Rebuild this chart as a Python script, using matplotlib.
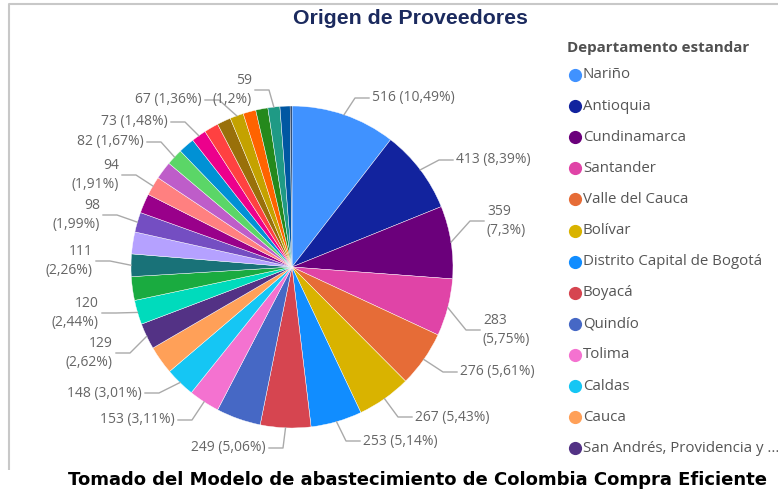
import numpy as np
import matplotlib
matplotlib.use("Agg")
import matplotlib.pyplot as plt

# ==========================================
# DATA
# ==========================================
departamentos = [
    "Nariño", "Antioquia", "Cundinamarca", "Santander", "Valle del Cauca",
    "Bolívar", "Distrito Capital de Bogotá", "Boyacá", "Quindío", "Tolima",
    "Caldas", "Cauca", "San Andrés, Providencia y Santa Catalina",
    "Risaralda", "Meta", "Huila", "Atlántico", "Magdalena", "Cesar",
    "Córdoba", "Sucre", "Norte de Santander", "Casanare", "Caquetá",
    "Putumayo", "La Guajira", "Chocó", "Arauca", "Amazonas", "Guaviare",
    "Vichada", "Guainía",
]
proveedores = [
    516, 413, 359, 283, 276, 267, 253, 249, 220, 153, 148, 140, 129,
    120, 117, 111, 108, 98, 96, 94, 88, 82, 80, 73, 71, 68, 67, 63, 60,
    59, 50, 9,
]
legend_labels = departamentos[:12] + ["San Andrés, Providencia y ..."]

colores = [
    "#4092FF", "#12239E", "#6B007B", "#E044A7", "#E66C37", "#D9B300",
    "#118DFF", "#D64550", "#4668C5", "#F472D0", "#15C6F4", "#FFA058",
    "#533285", "#00DBBC", "#1AAB40", "#197278", "#B5A1FF", "#744EC2",
    "#99008A", "#FF8080", "#BE5DC9", "#5BD667", "#0091D5", "#EC008C",
    "#FF4141", "#99700A", "#C4A200", "#FF6300", "#25891C", "#1F9A85",
    "#0057A2", "#002050",
]

# data-label layout: slice index -> (text anchor x, centre y) in pixels from top-left
label_pos = {
    0: (372, 98), 1: (456, 160), 2: (487, 221), 3: (483, 330),
    4: (460, 372), 5: (415, 417), 6: (363, 441), 7: (266, 448),
    9: (175, 420), 10: (142, 393), 12: (113, 353), 13: (99, 313),
    15: (93, 261), 17: (100, 215), 19: (119, 175), 21: (144, 142),
    23: (168, 122), 26: (202, 100), 29: (252, 90),
}
two_line = {2, 3, 12, 13, 15, 17, 19, 29}

W, H = 778, 492
total = sum(proveedores)


def pct(v):
    s = f"{100 * v / total:.2f}".rstrip("0").rstrip(".")
    return s.replace(".", ",") + "%"


fig = plt.figure(figsize=(W / 100, H / 100), dpi=100)
ax = fig.add_axes([0, 0, 1, 1])

# frame of the visual
ax.plot([9, 9, W], [H - 470, H - 4, H - 4], color="#c8c8c8", lw=1.5,
        solid_capstyle="butt")

# ==========================================
# PIE
# ==========================================
cx, cy, R = 292, H - 267, 161
wedges, _ = ax.pie(proveedores, colors=colores, startangle=90,
                   counterclock=False, center=(cx, cy), radius=R,
                   wedgeprops=dict(linewidth=0.3, edgecolor="white"))
ax.set_aspect("equal")
ax.set_xlim(0, W)
ax.set_ylim(0, H)
ax.axis("off")

label_font = dict(family="Open Sans", fontsize=10, color="#666666")
for i, (tx, ty) in label_pos.items():
    w = wedges[i]
    ang = np.deg2rad((w.theta1 + w.theta2) / 2)
    x0, y0 = cx + R * np.cos(ang), cy + R * np.sin(ang)
    side = 1 if tx > cx else -1
    y1 = H - ty
    x2 = tx - side * 3
    x1 = x2 - side * 14
    ax.plot([x0, x1, x2], [y0, y1, y1], color="#aaaaaa", lw=1)
    v = proveedores[i]
    sep = "\n" if i in two_line else " "
    ax.text(tx, y1, f"{v}{sep}({pct(v)})", ha="left" if side > 0 else "right",
            va="center", linespacing=1.45, **label_font)

# ==========================================
# TITLES & LEGEND
# ==========================================
ax.text(410, H - 18, "Origen de Proveedores", ha="center", va="center",
        family="Liberation Sans", fontweight="bold", fontsize=15.3,
        color="#1B2A5E")

ax.text(567, H - 48, "Departamento estandar", ha="left", va="center",
        family="Open Sans", fontweight="bold", fontsize=10.9, color="#505050")
for k, nombre in enumerate(legend_labels):
    yy = H - (75 + 31.1 * k)
    ax.plot(575, yy, "o", ms=9.5, color=colores[k], mec="none")
    ax.text(583, yy, nombre, ha="left", va="center", family="Open Sans",
            fontsize=10.8, color="#555555")

ax.text(418, H - 480,
        "Tomado del Modelo de abastecimiento de Colombia Compra Eficiente",
        ha="center", va="center", family="DejaVu Sans", fontweight="bold",
        fontsize=13.0, color="black")

fig.savefig("out.png", dpi=100)
